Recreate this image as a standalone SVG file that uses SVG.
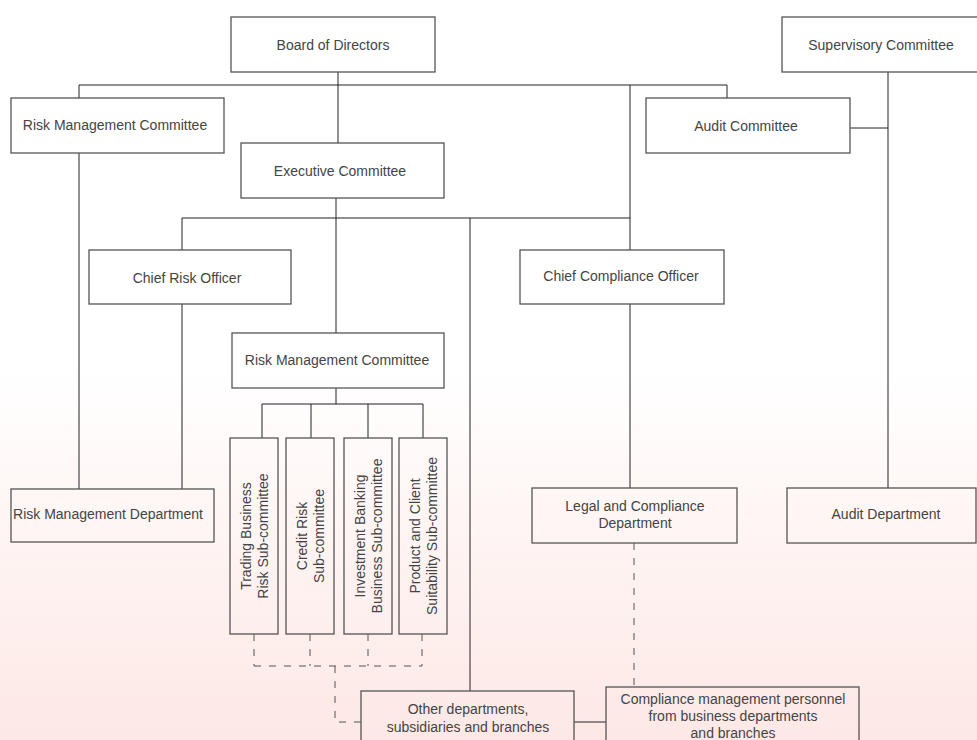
<svg xmlns="http://www.w3.org/2000/svg" width="977" height="740" viewBox="0 0 977 740">
<defs>
<linearGradient id="bg" x1="0" y1="0" x2="0" y2="1">
<stop offset="0" stop-color="#ffffff"/>
<stop offset="0.5" stop-color="#ffffff"/>
<stop offset="1" stop-color="#fde8e5"/>
</linearGradient>
</defs>
<style>
.box{fill:none;stroke:#555;stroke-width:1.3}
.t{font-family:"Liberation Sans",Arial,Helvetica,sans-serif;font-size:14px;fill:#444;text-anchor:middle}
.c{fill:none;stroke:#222;stroke-width:1}
.d{fill:none;stroke:#555;stroke-width:1;stroke-dasharray:7,8}
</style>
<rect x="0" y="0" width="977" height="740" fill="url(#bg)"/>
<g id="connectors">
<path class="c" d="M338 72V143"/>
<path class="c" d="M79 85H727M79 85V98M727 85V98"/>
<path class="c" d="M630 85V250"/>
<path class="c" d="M79 153V489"/>
<path class="c" d="M336 198V333"/>
<path class="c" d="M182 218H630M182 218V250"/>
<path class="c" d="M470 218V691"/>
<path class="c" d="M182 304V489"/>
<path class="c" d="M888 72V488M850 128H888"/>
<path class="c" d="M630 304V488"/>
<path class="c" d="M336 388V404M262 404H423M262 404V438M311 404V438M368 404V438M423 404V438"/>
<path class="d" d="M254 634V666M310 634V666M368 634V666M422 634V666M254 666H422M335 666V722H361"/>
<path class="d" d="M634 543V687"/>
<path class="c" d="M574 722H606"/>
</g>
<g id="board"><rect class="box" x="231" y="17" width="204" height="55"/><text class="t" x="333" y="50">Board of Directors</text></g>
<g id="supervisory"><rect class="box" x="782" y="17" width="198" height="55"/><text class="t" x="881" y="50">Supervisory Committee</text></g>
<g id="rmc-top"><rect class="box" x="11" y="98" width="213" height="55"/><text class="t" x="115" y="130">Risk Management Committee</text></g>
<g id="audit-committee"><rect class="box" x="646" y="98" width="204" height="55"/><text class="t" x="746" y="131">Audit Committee</text></g>
<g id="executive"><rect class="box" x="241" y="143" width="203" height="55"/><text class="t" x="340" y="176">Executive Committee</text></g>
<g id="cro"><rect class="box" x="89" y="250" width="202" height="54"/><text class="t" x="187" y="283">Chief Risk Officer</text></g>
<g id="cco"><rect class="box" x="520" y="250" width="204" height="54"/><text class="t" x="621" y="281">Chief Compliance Officer</text></g>
<g id="rmc-mid"><rect class="box" x="232" y="333" width="212" height="55"/><text class="t" x="337" y="365">Risk Management Committee</text></g>
<g id="sub1"><rect class="box" x="230" y="438" width="48" height="196"/><text class="t" transform="translate(254 536) rotate(-90)"><tspan x="0" y="-3">Trading Business</tspan><tspan x="0" y="14">Risk Sub-committee</tspan></text></g>
<g id="sub2"><rect class="box" x="286" y="438" width="48" height="196"/><text class="t" transform="translate(310 536) rotate(-90)"><tspan x="0" y="-3">Credit Risk</tspan><tspan x="0" y="14">Sub-committee</tspan></text></g>
<g id="sub3"><rect class="box" x="344" y="438" width="48" height="196"/><text class="t" transform="translate(368 536) rotate(-90)"><tspan x="0" y="-3">Investment Banking</tspan><tspan x="0" y="14">Business Sub-committee</tspan></text></g>
<g id="sub4"><rect class="box" x="399" y="438" width="48" height="196"/><text class="t" transform="translate(423 536) rotate(-90)"><tspan x="0" y="-3">Product and Client</tspan><tspan x="0" y="14">Suitability Sub-committee</tspan></text></g>
<g id="rmd"><rect class="box" x="11" y="489" width="203" height="53"/><text class="t" x="108" y="519">Risk Management Department</text></g>
<g id="legal"><rect class="box" x="532" y="488" width="205" height="55"/><text class="t"><tspan x="635" y="511">Legal and Compliance</tspan><tspan x="635" y="528">Department</tspan></text></g>
<g id="audit-dept"><rect class="box" x="787" y="488" width="189" height="55"/><text class="t" x="886" y="519">Audit Department</text></g>
<g id="other"><rect class="box" x="361" y="691" width="213" height="60"/><text class="t"><tspan x="468" y="714">Other departments,</tspan><tspan x="468" y="732">subsidiaries and branches</tspan></text></g>
<g id="compliance-personnel"><rect class="box" x="606" y="687" width="253" height="64"/><text class="t"><tspan x="733" y="704">Compliance management personnel</tspan><tspan x="733" y="721">from business departments</tspan><tspan x="733" y="738">and branches</tspan></text></g>
</svg>
